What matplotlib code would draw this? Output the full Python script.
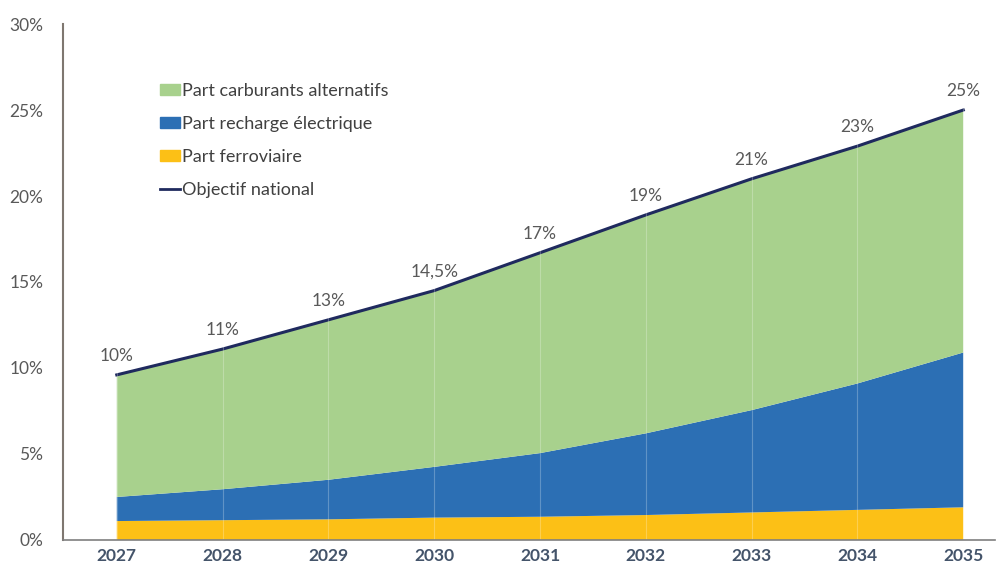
import matplotlib.pyplot as plt
from matplotlib.lines import Line2D
from matplotlib.patches import Patch

# donnees (en %)
annees = [2027, 2028, 2029, 2030, 2031, 2032, 2033, 2034, 2035]
part_ferroviaire = [1.1, 1.15, 1.2, 1.3, 1.35, 1.45, 1.6, 1.75, 1.9]
part_recharge = [1.4, 1.8, 2.3, 2.95, 3.7, 4.75, 5.95, 7.35, 9.0]
part_carburants = [7.1, 8.15, 9.3, 10.25, 11.65, 12.7, 13.45, 13.8, 14.1]
objectif = [9.6, 11.1, 12.8, 14.5, 16.7, 18.9, 21.0, 22.9, 25.0]
etiquettes = ["10%", "11%", "13%", "14,5%", "17%", "19%", "21%", "23%", "25%"]
yticks = [0, 5, 10, 15, 20, 25, 30]

plt.rcParams['font.family'] = ['Lato', 'DejaVu Sans']

fig = plt.figure(figsize=(9.97, 5.72), dpi=100)
ax = fig.add_axes([0.063, 0.056, 0.935, 0.902])

couleurs = ['#FCC016', '#2C6FB4', '#A8D18D']
ax.stackplot(annees, part_ferroviaire, part_recharge, part_carburants,
             colors=couleurs, linewidth=0)
ax.plot(annees, objectif, color='#1F2A5E', linewidth=2.2)

# fines lignes verticales dans les aires
for a in annees:
    ax.axvline(a, color='white', alpha=0.25, linewidth=0.8)

for a, v, t in zip(annees, objectif, etiquettes):
    ax.annotate(t, (a, v), xytext=(0, 8), textcoords='offset points',
                ha='center', va='bottom', fontsize=12.5, color='#595959')

ax.set_xlim(2026.49, 2035.3)
ax.set_ylim(0, 30)
ax.set_xticks(annees)
ax.set_xticklabels([str(a) for a in annees], fontsize=12.5,
                   fontweight='bold', color='#44546A')
ax.set_yticks(yticks)
ax.set_yticklabels([f"{y}%" for y in yticks], fontsize=12.5, color='#595959')
ax.tick_params(axis='x', length=0, pad=6)
ax.tick_params(axis='y', length=0, pad=14)

for s in ['top', 'right']:
    ax.spines[s].set_visible(False)
ax.spines['left'].set_color('#7F7770')
ax.spines['left'].set_linewidth(1.5)
ax.spines['bottom'].set_color('#7F7F7F')
ax.spines['bottom'].set_linewidth(1.2)

poignees = [Patch(color=couleurs[2]), Patch(color=couleurs[1]),
            Patch(color=couleurs[0]), Line2D([], [], color='#1F2A5E', lw=2)]
noms = ["Part carburants alternatifs", "Part recharge électrique",
        "Part ferroviaire", "Objectif national"]
ax.legend(poignees, noms, loc='upper left', bbox_to_anchor=(0.104, 0.886),
          frameon=False, fontsize=13, labelcolor='#404040',
          borderpad=0, borderaxespad=0,
          handlelength=1.1, handleheight=0.55, handletextpad=0.15,
          labelspacing=0.95)

fig.savefig('out.png', dpi=100)
